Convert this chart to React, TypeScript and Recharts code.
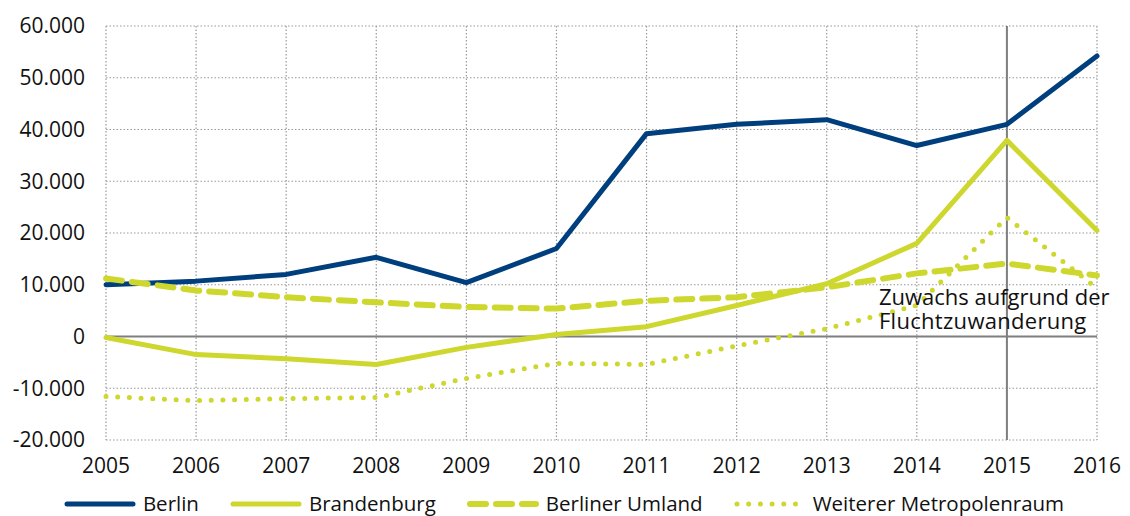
import {
  LineChart,
  Line,
  XAxis,
  YAxis,
  CartesianGrid,
  Legend,
  ReferenceLine,
  ReferenceDot,
} from 'recharts';

const years = [2005, 2006, 2007, 2008, 2009, 2010, 2011, 2012, 2013, 2014, 2015, 2016];
const berlin = [10000, 10700, 12000, 15300, 10400, 17000, 39200, 41000, 41900, 36900, 41000, 54200];
const brandenburg = [-200, -3500, -4300, -5400, -2100, 400, 1900, 6000, 10200, 18000, 37900, 20500];
const umland = [11200, 8900, 7600, 6600, 5700, 5400, 6900, 7600, 9500, 12200, 14100, 11800];
const metropolenraum = [-11600, -12400, -12000, -11800, -8100, -5200, -5400, -1800, 1500, 6000, 23000, 9300];
const yTicks = [-20000, -10000, 0, 10000, 20000, 30000, 40000, 50000, 60000];

const NAVY = '#003f7d';
const LIME = '#cdd72d';
const FONT = '"Open Sans", sans-serif';

const data = years.map((year, i) => ({
  year,
  berlin: berlin[i],
  brandenburg: brandenburg[i],
  umland: umland[i],
  metropolenraum: metropolenraum[i],
}));

const seriesDefs = [
  { key: 'berlin', name: 'Berlin', color: NAVY, dash: undefined as string | undefined, width: 5 },
  { key: 'brandenburg', name: 'Brandenburg', color: LIME, dash: undefined, width: 5 },
  { key: 'umland', name: 'Berliner Umland', color: LIME, dash: '16 10', width: 6 },
  { key: 'metropolenraum', name: 'Weiterer Metropolenraum', color: LIME, dash: '0 11.7', width: 5 },
];

const fmt = (v: number) => v.toLocaleString('de-DE');

function LegendContent() {
  return (
    <div
      style={{
        display: 'flex',
        justifyContent: 'center',
        alignItems: 'center',
        fontFamily: FONT,
        fontSize: 20.5,
        lineHeight: '24px',
        color: '#111',
        paddingTop: 11,
        paddingRight: 11,
      }}
    >
      {seriesDefs.map((s, i) => (
        <div key={s.key} style={{ display: 'flex', alignItems: 'center', marginRight: i < seriesDefs.length - 1 ? 30 : 0 }}>
          <svg width={74} height={12} style={{ marginRight: 6, marginTop: 2 }}>
            <line
              x1={4}
              x2={70}
              y1={6}
              y2={6}
              stroke={s.color}
              strokeWidth={s.width}
              strokeLinecap="round"
              strokeDasharray={s.dash}
            />
          </svg>
          <span>{s.name}</span>
        </div>
      ))}
    </div>
  );
}

function Annotation(props: any) {
  const { viewBox } = props;
  const cx = viewBox.x + (viewBox.width || 0) / 2;
  const cy = viewBox.y + (viewBox.height || 0) / 2;
  return (
    <text x={cx - 128} y={cy - 32} fontFamily={FONT} fontSize={22} fill="#111">
      <tspan x={cx - 128}>Zuwachs aufgrund der</tspan>
      <tspan x={cx - 128} dy={24} letterSpacing={0.3}>Fluchtzuwanderung</tspan>
    </text>
  );
}

export default function App() {
  return (
    <LineChart width={1122} height={508} data={data} margin={{ top: 18, right: 33, left: 0, bottom: 0 }}>
      <CartesianGrid stroke="#999" strokeDasharray="1.5 2" strokeWidth={1.2} />
      <XAxis
        dataKey="year"
        type="number"
        domain={[2005, 2016]}
        ticks={years}
        axisLine={false}
        tickLine={false}
        tickSize={0}
        tickMargin={18}
        height={40}
        tick={{ fontFamily: FONT, fontSize: 21, fill: '#111' }}
      />
      <YAxis
        domain={[-20000, 60000]}
        ticks={yTicks}
        tickFormatter={fmt}
        axisLine={false}
        tickLine={false}
        tickSize={0}
        tickMargin={21}
        width={98}
        tick={{ fontFamily: FONT, fontSize: 21, fill: '#111' }}
      />
      <ReferenceLine y={0} stroke="#7f7f7f" strokeWidth={2} />
      <ReferenceLine x={2015} stroke="#7f7f7f" strokeWidth={2} />
      <Legend
        verticalAlign="bottom"
        height={36}
        wrapperStyle={{ left: 0, width: 1122 }}
        content={LegendContent}
      />
      {seriesDefs.map((s) => (
        <Line
          key={s.key}
          type="linear"
          dataKey={s.key}
          name={s.name}
          stroke={s.color}
          strokeWidth={s.width}
          strokeDasharray={s.dash}
          strokeLinecap="round"
          strokeLinejoin="round"
          dot={false}
          activeDot={false}
          isAnimationActive={false}
        />
      ))}
      <ReferenceDot x={2015} y={0} r={0} fill="none" stroke="none" label={<Annotation />} />
    </LineChart>
  );
}
